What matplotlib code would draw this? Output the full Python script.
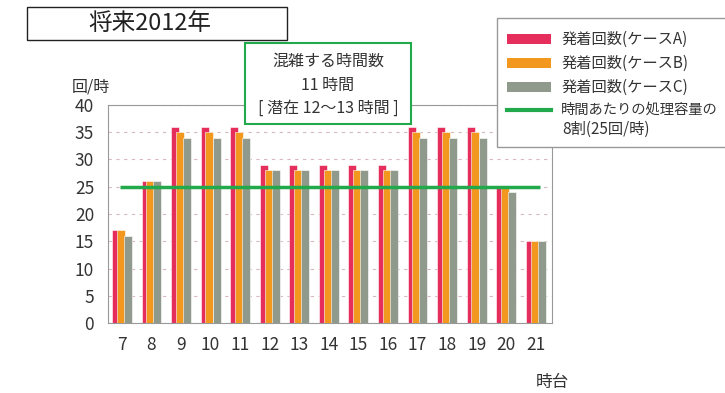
import numpy as np
import matplotlib.pyplot as plt
from matplotlib.patches import Rectangle
from matplotlib.lines import Line2D

plt.rcParams['font.family'] = ['Noto Sans CJK JP', 'DejaVu Sans']

hours = [7, 8, 9, 10, 11, 12, 13, 14, 15, 16, 17, 18, 19, 20, 21]
case_a = [17, 26, 36, 36, 36, 29, 29, 29, 29, 29, 36, 36, 36, 25, 15]
case_b = [17, 26, 35, 35, 35, 28, 28, 28, 28, 28, 35, 35, 35, 25, 15]
case_c = [16, 26, 34, 34, 34, 28, 28, 28, 28, 28, 34, 34, 34, 24, 15]
capacity = 25

c_red = '#E62E5C'
c_orange = '#F3981F'
c_gray = '#8F9A8C'
c_green = '#22A94B'
c_text = '#333333'

fig = plt.figure(figsize=(7.25, 3.93), dpi=100)
ax = fig.add_axes([0.149, 0.178, 0.612, 0.555])

x = np.array(hours)
w = 0.27
ax.bar(x - 0.2, case_a, w, color=c_red, edgecolor='white', linewidth=0.4, zorder=2)
ax.bar(x - 0.04, case_b, w, color=c_orange, edgecolor='white', linewidth=0.4, zorder=3)
ax.bar(x + 0.2, case_c, w, color=c_gray, edgecolor='white', linewidth=0.4, zorder=4)
ax.hlines(capacity, hours[0] - 0.05, hours[-1] + 0.15, color=c_green, linewidth=2.5, zorder=5)

ax.set_xlim(6.53, 21.54)
ax.set_ylim(0, 40)
ax.set_yticks(range(0, 41, 5))
ax.set_xticks(hours)
ax.tick_params(length=0, labelsize=12.5, colors=c_text)
ax.tick_params(axis='y', pad=10)
ax.tick_params(axis='x', pad=9)
ax.yaxis.grid(True, linestyle=(0, (3, 4)), color='#d9b8bf', linewidth=0.8, zorder=0)
for s in ax.spines.values():
    s.set_color('#999999')
    s.set_linewidth(0.8)

fig.text(72 / 725, 1 - 87 / 393, '回/時', fontsize=11.5, color=c_text, ha='left', va='center')
fig.text(552 / 725, 1 - 383 / 393, '時台', fontsize=12, color=c_text, ha='center', va='center')

# title box
fig.patches.append(Rectangle((27 / 725, 1 - 40 / 393), 260 / 725, 33 / 393, transform=fig.transFigure,
                             facecolor='white', edgecolor='#222222', linewidth=1))
fig.text(150 / 725, 1 - 24 / 393, '将来2012年', fontsize=17, ha='center', va='center', color='#222222')

# congestion box
fig.patches.append(Rectangle((245 / 725, 1 - 124 / 393), 166 / 725, 81 / 393, transform=fig.transFigure,
                             facecolor='white', edgecolor=c_green, linewidth=1.5, zorder=10))
for yy, t in [(61, '混雑する時間数'), (85, '11 時間'), (108, '[ 潜在 12〜13 時間 ]')]:
    fig.text(328 / 725, 1 - yy / 393, t, fontsize=11.5, ha='center', va='center', color=c_text, zorder=11)

# legend
fig.patches.append(Rectangle((497 / 725, 1 - 147 / 393), 240 / 725, 129 / 393, transform=fig.transFigure,
                             facecolor='white', edgecolor='#999999', linewidth=1, zorder=10))
leg_items = [(c_red, '発着回数(ケースA)'), (c_orange, '発着回数(ケースB)'), (c_gray, '発着回数(ケースC)')]
for i, (col, lab) in enumerate(leg_items):
    yy = 39 + i * 24
    fig.patches.append(Rectangle((507 / 725, 1 - (yy + 5) / 393), 44 / 725, 10 / 393, transform=fig.transFigure,
                                 facecolor=col, edgecolor='none', zorder=11))
    fig.text(562 / 725, 1 - yy / 393, lab, fontsize=11, ha='left', va='center', color=c_text, zorder=11)
fig.lines.append(Line2D([507 / 725, 551 / 725], [1 - 110 / 393] * 2, transform=fig.transFigure,
                        color=c_green, linewidth=3, zorder=11))
fig.text(561 / 725, 1 - 110 / 393, '時間あたりの処理容量の', fontsize=10.3, ha='left', va='center', color=c_text, zorder=11)
fig.text(562 / 725, 1 - 129 / 393, '8割(25回/時)', fontsize=11, ha='left', va='center', color=c_text, zorder=11)

fig.savefig('out.png', dpi=100)
